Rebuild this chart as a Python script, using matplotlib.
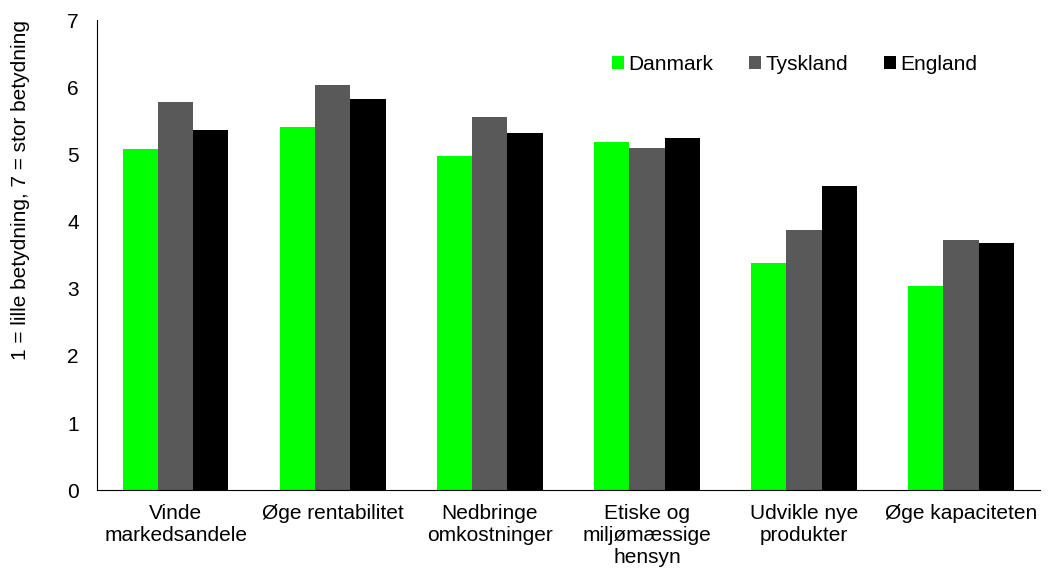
import matplotlib
matplotlib.use("Agg")
import matplotlib.pyplot as plt
import numpy as np

plt.rcParams['font.family'] = ['Liberation Sans', 'DejaVu Sans']

categories = ["Vinde\nmarkedsandele", "Øge rentabilitet", "Nedbringe\nomkostninger",
              "Etiske og\nmiljømæssige\nhensyn", "Udvikle nye\nprodukter", "Øge kapaciteten"]
danmark = [5.08, 5.41, 4.98, 5.18, 3.39, 3.04]
tyskland = [5.78, 6.04, 5.55, 5.09, 3.88, 3.72]
england = [5.36, 5.82, 5.32, 5.24, 4.53, 3.68]
series_names = ["Danmark", "Tyskland", "England"]
colors = ["#00FF00", "#595959", "#000000"]

FS = 15

fig = plt.figure(figsize=(10.48, 5.74), dpi=100)
ax = fig.add_axes([0.0926, 0.146, 0.8994, 0.819])

x = np.arange(len(categories))
w = 0.2245
for i, (vals, name, c) in enumerate(zip([danmark, tyskland, england], series_names, colors)):
    ax.bar(x + (i - 1) * w, vals, width=w, color=c, label=name)

ax.set_xlim(-0.5, len(categories) - 0.5)
ax.set_ylim(0, 7)
ax.set_yticks(range(0, 8))
ax.set_xticks(x)
ax.set_xticklabels(categories, fontsize=FS, linespacing=1.2)
ax.tick_params(axis='both', length=0, labelsize=FS)
ax.tick_params(axis='y', pad=13)
ax.tick_params(axis='x', pad=10)
for s in ['top', 'right']:
    ax.spines[s].set_visible(False)
ax.spines['left'].set_color('black')
ax.spines['bottom'].set_color('black')

ax.set_ylabel("1 = lille betydning, 7 = stor betydning", fontsize=FS)
ax.yaxis.set_label_coords(-0.071, 0.638)

leg = ax.legend(loc='center', bbox_to_anchor=(0.74, 0.906), ncol=3, frameon=False,
                fontsize=FS, handlelength=0.58, handleheight=0.58, handletextpad=0.2,
                columnspacing=1.73)

fig.savefig("out.png", dpi=100)
